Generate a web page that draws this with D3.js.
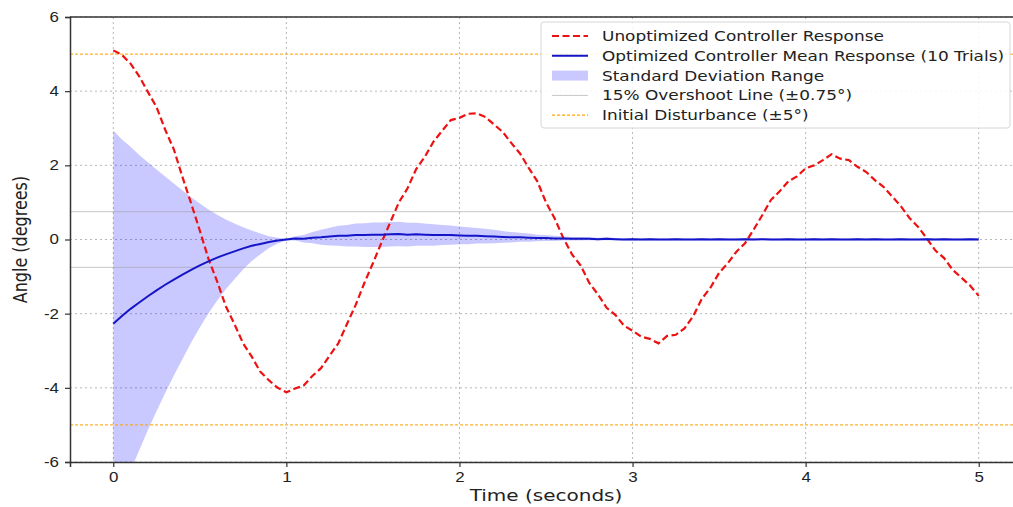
<!DOCTYPE html>
<html>
<head>
  <meta charset="utf-8">
  <title>Controller Response</title>
  <script src="https://cdnjs.cloudflare.com/ajax/libs/d3/7.8.5/d3.min.js"></script>
  <style>
    body { margin: 0; background: #fff; }
    svg { display: block; font-family: "DejaVu Sans", sans-serif; }
    .tick text { font-size: 14px; fill: #222; }
    .grid line { stroke: #b8b8b8; stroke-dasharray: 2,3; }
  </style>
</head>
<body>
<svg id="chart" width="1013" height="507"></svg>
<script>
// time samples every 0.05 s
var times = d3.range(0, 101).map(i => +(i * 0.05).toFixed(2));

// unoptimized controller (red dashed)
var unoptimized = [
  5.10, 4.98, 4.74, 4.40, 3.98, 3.57, 2.96, 2.43, 1.68, 0.97,
  0.24, -0.52, -1.13, -1.80, -2.28, -2.80, -3.16, -3.57, -3.80, -4.00,
  -4.12, -4.02, -3.94, -3.68, -3.47, -3.13, -2.80, -2.28, -1.77, -1.18,
  -0.64, -0.08, 0.46, 1.00, 1.38, 1.90, 2.23, 2.64, 2.93, 3.22,
  3.28, 3.39, 3.40, 3.30, 3.10, 2.90, 2.60, 2.32, 1.93, 1.57,
  1.00, 0.57, 0.04, -0.40, -0.70, -1.17, -1.48, -1.84, -2.03, -2.32,
  -2.46, -2.62, -2.68, -2.80, -2.60, -2.57, -2.40, -2.07, -1.60, -1.30,
  -0.90, -0.64, -0.33, -0.10, 0.27, 0.66, 1.07, 1.30, 1.57, 1.70,
  1.92, 2.00, 2.14, 2.30, 2.18, 2.14, 1.96, 1.82, 1.60, 1.42,
  1.16, 0.90, 0.58, 0.34, 0.03, -0.30, -0.50, -0.82, -1.03, -1.24,
  -1.52
];

// optimized mean response (blue)
var optimizedMean = [
  -2.27, -2.06, -1.87, -1.70, -1.53, -1.37, -1.22, -1.08, -0.95, -0.82,
  -0.70, -0.59, -0.49, -0.40, -0.32, -0.24, -0.17, -0.12, -0.07, -0.03,
  0.00, 0.03, 0.02, 0.05, 0.06, 0.08, 0.10, 0.10, 0.12, 0.12,
  0.13, 0.13, 0.14, 0.15, 0.13, 0.14, 0.13, 0.12, 0.12, 0.12,
  0.11, 0.10, 0.10, 0.09, 0.08, 0.07, 0.06, 0.06, 0.05, 0.04,
  0.04, 0.03, 0.03, 0.02, 0.02, 0.02, 0.01, 0.02, 0.01, 0.00,
  0.01, 0.00, 0.01, 0.00, 0.00, 0.01, 0.00, 0.00, 0.01, 0.00,
  0.01, 0.00, 0.00, 0.01, 0.00, 0.01, 0.00, 0.00, 0.01, 0.00,
  0.00, 0.01, 0.00, 0.01, 0.00, 0.00, 0.01, 0.00, 0.01, 0.00,
  0.00, 0.01, 0.00, 0.00, 0.01, 0.00, 0.01, 0.00, 0.00, 0.01,
  0.00
];

// standard deviation across trials (band half-width)
var optimizedStd = [
  5.21, 4.76, 4.37, 3.98, 3.61, 3.26, 2.92, 2.59, 2.27, 1.96,
  1.67, 1.40, 1.16, 0.94, 0.75, 0.57, 0.41, 0.28, 0.16, 0.08,
  0.03, 0.06, 0.10, 0.15, 0.20, 0.24, 0.27, 0.29, 0.31, 0.32,
  0.33, 0.33, 0.33, 0.33, 0.32, 0.31, 0.30, 0.29, 0.27, 0.26,
  0.24, 0.23, 0.21, 0.20, 0.18, 0.16, 0.14, 0.12, 0.11, 0.09,
  0.08, 0.07, 0.06, 0.05, 0.05, 0.04, 0.04, 0.04, 0.03, 0.03,
  0.03, 0.03, 0.03, 0.03, 0.03, 0.03, 0.03, 0.03, 0.03, 0.03,
  0.03, 0.03, 0.03, 0.03, 0.03, 0.03, 0.03, 0.03, 0.03, 0.03,
  0.03, 0.03, 0.03, 0.03, 0.03, 0.03, 0.03, 0.03, 0.03, 0.03,
  0.03, 0.03, 0.03, 0.03, 0.03, 0.03, 0.03, 0.03, 0.03, 0.03,
  0.03
];

var xTicks = [0, 1, 2, 3, 4, 5];
var yTicks = [-6, -4, -2, 0, 2, 4, 6];
var overshoot = [0.75, -0.75];
var disturbance = [5, -5];

var legendLabels = [
  "Unoptimized Controller Response",
  "Optimized Controller Mean Response (10 Trials)",
  "Standard Deviation Range",
  "15% Overshoot Line (\u00b10.75\u00b0)",
  "Initial Disturbance (\u00b15\u00b0)"
];

var svg = d3.select("#chart");
var padL = 70, padR = 1022, padT = 17, padB = 462;
var stretch = 1.21;   // the picture's text is wider than tall

var x = d3.scaleLinear().domain([-0.25, 5.25]).range([padL, padR]);
var y = d3.scaleLinear().domain([-6, 6]).range([padB, padT]);

svg.append("clipPath").attr("id", "plotclip")
  .append("rect")
  .attr("x", padL).attr("y", padT)
  .attr("width", padR - padL).attr("height", padB - padT);

// grid
svg.append("g").attr("class", "grid")
  .selectAll("line").data(xTicks).enter().append("line")
  .attr("x1", d => x(d)).attr("x2", d => x(d))
  .attr("y1", padT).attr("y2", padB);
svg.append("g").attr("class", "grid")
  .selectAll("line").data(yTicks).enter().append("line")
  .attr("x1", padL).attr("x2", padR)
  .attr("y1", d => y(d)).attr("y2", d => y(d));

var plot = svg.append("g").attr("clip-path", "url(#plotclip)");

var rows = times.map((t, i) => ({
  t: t,
  red: unoptimized[i],
  mean: optimizedMean[i],
  sd: optimizedStd[i]
}));

// std band
plot.append("path")
  .datum(rows)
  .attr("d", d3.area()
    .x(d => x(d.t))
    .y0(d => y(d.mean - d.sd))
    .y1(d => y(d.mean + d.sd)))
  .attr("fill", "#0000ff")
  .attr("fill-opacity", 0.21);

// reference lines
plot.selectAll("line.over").data(overshoot).enter().append("line")
  .attr("class", "over")
  .attr("x1", padL).attr("x2", padR)
  .attr("y1", d => y(d)).attr("y2", d => y(d))
  .attr("stroke", "#a0a0a0").attr("stroke-opacity", 0.6).attr("stroke-width", 1);

plot.selectAll("line.dist").data(disturbance).enter().append("line")
  .attr("class", "dist")
  .attr("x1", padL).attr("x2", padR)
  .attr("y1", d => y(d)).attr("y2", d => y(d))
  .attr("stroke", "#ffa500").attr("stroke-width", 1.3)
  .attr("stroke-dasharray", "3,2").attr("stroke-opacity", 0.85);

// red dashed response
plot.append("path")
  .datum(rows)
  .attr("d", d3.line().x(d => x(d.t)).y(d => y(d.red)))
  .attr("fill", "none")
  .attr("stroke", "#ee1111")
  .attr("stroke-width", 2.2)
  .attr("stroke-dasharray", "7,3.5");

// blue mean
plot.append("path")
  .datum(rows)
  .attr("d", d3.line().x(d => x(d.t)).y(d => y(d.mean)))
  .attr("fill", "none")
  .attr("stroke", "#1515c8")
  .attr("stroke-width", 2);

// axes (plain hyphen minus like the reference)
var xAxis = svg.append("g")
  .attr("transform", "translate(0," + padB + ")")
  .call(d3.axisBottom(x).tickValues(xTicks).tickSize(5).tickPadding(5).tickFormat(d => String(d)));
var yAxis = svg.append("g")
  .attr("transform", "translate(" + padL + ",0)")
  .call(d3.axisLeft(y).tickValues(yTicks).tickSize(5).tickPadding(6).tickFormat(d => String(d)));

[xAxis, yAxis].forEach(a => {
  a.select(".domain").attr("stroke", "#333").attr("stroke-width", 1.5);
  a.selectAll(".tick line").attr("stroke", "#333").attr("stroke-width", 1.2);
  a.selectAll(".tick text").attr("transform", "scale(" + stretch + ",1)");
});
// keep the stretched tick labels anchored where the axis put them
yAxis.selectAll(".tick text").attr("x", -11 / stretch);

// top spine
svg.append("line")
  .attr("x1", padL).attr("x2", padR)
  .attr("y1", padT).attr("y2", padT)
  .attr("stroke", "#333").attr("stroke-width", 1.5);

// axis labels
svg.append("text")
  .attr("transform", "translate(546,501) scale(1.25,1)")
  .attr("text-anchor", "middle")
  .attr("font-size", 16).attr("fill", "#222")
  .text("Time (seconds)");

svg.append("text")
  .attr("transform", "translate(27," + y(0) + ") rotate(-90) scale(1,1.2)")
  .attr("text-anchor", "middle")
  .attr("font-size", 16).attr("fill", "#222")
  .text("Angle (degrees)");

// legend
var lg = svg.append("g").attr("transform", "translate(541,22)");
lg.append("rect")
  .attr("width", 469).attr("height", 106).attr("rx", 3)
  .attr("fill", "#fff").attr("fill-opacity", 0.85)
  .attr("stroke", "#d6d6d6");

var items = lg.selectAll("g.item").data(legendLabels).enter().append("g")
  .attr("class", "item")
  .attr("transform", (d, i) => "translate(0," + (14 + i * 19.8) + ")");

items.append("text")
  .attr("transform", "translate(61,5) scale(" + stretch + ",1)")
  .attr("font-size", 14).attr("fill", "#222")
  .text(d => d);

items.each(function(d, i) {
  var g = d3.select(this);
  if (i === 0) {
    g.append("line").attr("x1", 11).attr("x2", 47)
      .attr("stroke", "#ee1111").attr("stroke-width", 2.2).attr("stroke-dasharray", "7,3.5");
  } else if (i === 1) {
    g.append("line").attr("x1", 11).attr("x2", 47)
      .attr("stroke", "#1515c8").attr("stroke-width", 2);
  } else if (i === 2) {
    g.append("rect").attr("x", 11).attr("y", -5).attr("width", 36).attr("height", 10)
      .attr("fill", "#0000ff").attr("fill-opacity", 0.21);
  } else if (i === 3) {
    g.append("line").attr("x1", 11).attr("x2", 47)
      .attr("stroke", "#a0a0a0").attr("stroke-opacity", 0.6);
  } else {
    g.append("line").attr("x1", 11).attr("x2", 47)
      .attr("stroke", "#ffa500").attr("stroke-width", 1.3).attr("stroke-dasharray", "3,2");
  }
});
</script>
</body>
</html>
